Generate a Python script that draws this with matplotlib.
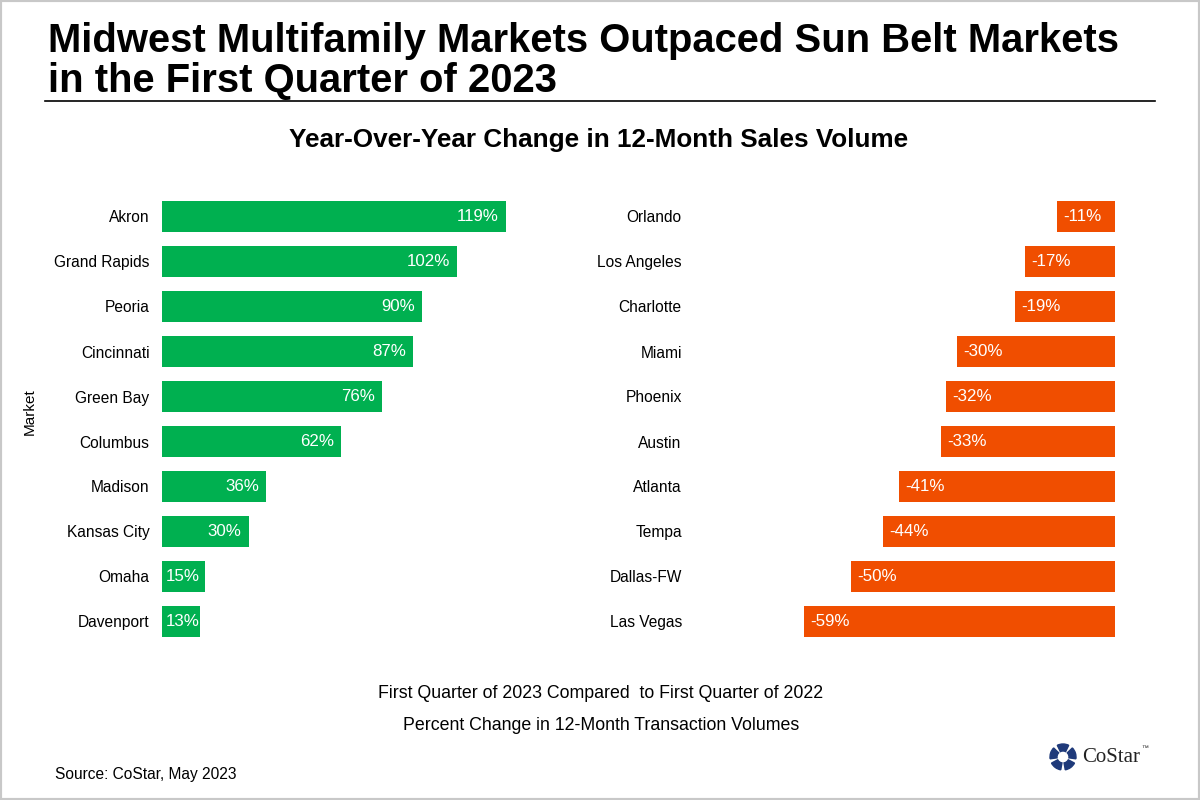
import matplotlib.pyplot as plt
from matplotlib.patches import Rectangle, Wedge

# data
midwest_markets = ['Akron', 'Grand Rapids', 'Peoria', 'Cincinnati', 'Green Bay',
                   'Columbus', 'Madison', 'Kansas City', 'Omaha', 'Davenport']
midwest_change = [119, 102, 90, 87, 76, 62, 36, 30, 15, 13]
sunbelt_markets = ['Orlando', 'Los Angeles', 'Charlotte', 'Miami', 'Phoenix',
                   'Austin', 'Atlanta', 'Tempa', 'Dallas-FW', 'Las Vegas']
sunbelt_change = [-11, -17, -19, -30, -32, -33, -41, -44, -50, -59]

green = '#00B050'
orange = '#F04E00'
W, H = 1200, 800

plt.rcParams['font.family'] = ['Liberation Sans', 'DejaVu Sans']

fig = plt.figure(figsize=(12, 8), dpi=100)


def fx(px):
    return px / W


def fy(py):
    return 1 - py / H


# title block
fig.text(fx(48), fy(52), 'Midwest Multifamily Markets Outpaced Sun Belt Markets',
         fontsize=28.8, fontweight='bold', va='baseline', ha='left')
fig.text(fx(48), fy(92), 'in the First Quarter of 2023',
         fontsize=28.8, fontweight='bold', va='baseline', ha='left')
fig.add_artist(plt.Line2D([fx(45), fx(1155)], [fy(101), fy(101)], color='black', lw=1.2))
fig.text(fx(599), fy(147), 'Year-Over-Year Change in 12-Month Sales Volume',
         fontsize=18.8, fontweight='bold', ha='center', va='baseline')

top, bottom = 194, 644
ax1 = fig.add_axes([fx(162), fy(bottom), fx(506 - 162), (bottom - top) / H])
ax2 = fig.add_axes([fx(804), fy(bottom), fx(1115 - 804), (bottom - top) / H])

ypos = list(range(len(midwest_markets)))
ax1.barh(ypos, midwest_change, height=0.67, color=green)
ax1.set_xlim(0, 119)
ax1.set_ylim(9.5, -0.5)
ax1.set_yticks(ypos)
ax1.set_yticklabels(midwest_markets, fontsize=11.2)
for y, v in zip(ypos, midwest_change):
    if v < 20:
        # short bars: label starts at the bar base
        ax1.annotate(f'{v}%', (0, y), xytext=(2.5, 0), textcoords='offset points',
                     color='white', fontsize=12.2, ha='left', va='center')
    else:
        ax1.annotate(f'{v}%', (v, y), xytext=(-5, 0), textcoords='offset points',
                     color='white', fontsize=12.2, ha='right', va='center')

ax2.barh(ypos, sunbelt_change, height=0.67, color=orange)
ax2.set_xlim(-59, 0)
ax2.set_ylim(9.5, -0.5)
ax2.set_yticks(ypos)
ax2.set_yticklabels(sunbelt_markets, fontsize=11.2)
for y, v in zip(ypos, sunbelt_change):
    ax2.annotate(f'{v}%', (v, y), xytext=(4.5, 0), textcoords='offset points',
                 color='white', fontsize=12.2, ha='left', va='center')

for ax, pad in ((ax1, 9), (ax2, 88)):
    ax.tick_params(axis='y', length=0, pad=pad)
    ax.set_xticks([])
    for s in ax.spines.values():
        s.set_visible(False)
    ax.patch.set_alpha(0)

fig.text(fx(30), fy(412), 'Market', rotation=90, fontsize=11, ha='center', va='center')

fig.text(fx(601), fy(693), 'First Quarter of 2023 Compared  to First Quarter of 2022',
         fontsize=12.8, ha='center', va='center')
fig.text(fx(601), fy(725), 'Percent Change in 12-Month Transaction Volumes',
         fontsize=12.8, ha='center', va='center')
fig.text(fx(55), fy(774), 'Source: CoStar, May 2023', fontsize=11.2, ha='left', va='center')

# CoStar logo: ring of five blocks plus wordmark
logo_ax = fig.add_axes([0, 0, 1, 1])
logo_ax.set_xlim(0, W)
logo_ax.set_ylim(H, 0)
logo_ax.axis('off')
for k in range(5):
    start = 90 + k * 72 + 10
    logo_ax.add_patch(Wedge((1063, 757), 13, start, start + 52, width=7,
                            color='#1F3A7A'))
logo_ax.text(1082, 757, 'CoStar', fontsize=15, family=['Liberation Serif', 'DejaVu Serif'],
             color='#222222', ha='left', va='center')
logo_ax.text(1141, 749, '™', fontsize=5, color='#222222', ha='left', va='center')

# light frame around the image
fig.add_artist(Rectangle((0, 0), 1, 1, transform=fig.transFigure, fill=False,
                         edgecolor='#C8C8C8', lw=3))

fig.savefig('out.png', dpi=100)
